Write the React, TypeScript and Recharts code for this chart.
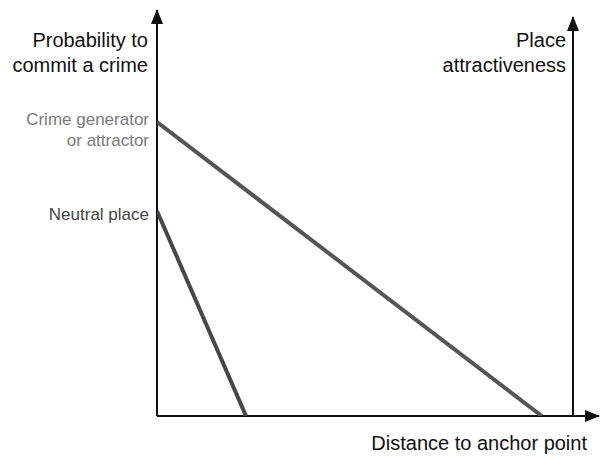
import React from "react";
import { LineChart, Line, XAxis, YAxis, ReferenceLine } from "recharts";

// Series: probability to commit a crime vs distance to anchor point
const generatorDistance = [0, 92.5];
const generatorProb = [73.5, 0];
const neutralDistance = [0, 21.4];
const neutralProb = [51.25, 0];

// Y tick labels (one per series start)
const yTickValues = [generatorProb[0], neutralProb[0]];
const yTickLabels = [["Crime generator", "or attractor"], ["Neutral place"]];
const yTickColors = ["#7a7a7a", "#444444"];

// Axis titles
const leftTitle = ["Probability to", "commit a crime"];
const rightTitle = ["Place", "attractiveness"];
const bottomTitle = "Distance to anchor point";

// Axis extents (data units)
const xMax = 100;
const yMax = 100;
const leftAxisTop = 101.5;
const rightAxisTop = 99.75;
const bottomAxisEnd = 106.25;

const generatorData = generatorDistance.map((d, i) => ({ x: d, y: generatorProb[i] }));
const neutralData = neutralDistance.map((d, i) => ({ x: d, y: neutralProb[i] }));

const FONT = '"Liberation Sans", Arial, Helvetica, sans-serif';

const ArrowLine = (p: any) => (
  <line
    x1={p.x1}
    y1={p.y1}
    x2={p.x2}
    y2={p.y2}
    stroke="#111"
    strokeWidth={2}
    markerEnd="url(#arrowHead)"
  />
);

const YTick = (props: any) => {
  const { x, y, payload } = props;
  const idx = yTickValues.indexOf(payload.value);
  if (idx < 0) return null;
  const lines = yTickLabels[idx];
  const first = lines.length > 1 ? 3 : 9;
  return (
    <text
      x={x}
      y={y + first}
      textAnchor="end"
      fill={yTickColors[idx]}
      fontSize={17}
      fontFamily={FONT}
    >
      {lines.map((l, i) => (
        <tspan key={i} x={x} dy={i === 0 ? 0 : 21}>
          {l}
        </tspan>
      ))}
    </text>
  );
};

const multiTitle = (lines: string[], dx: number, dy: number) => (props: any) => {
  const vb = props.viewBox || {};
  return (
    <text
      x={vb.x + dx}
      y={vb.y + dy}
      textAnchor="end"
      fill="#111"
      fontSize={20}
      fontFamily={FONT}
    >
      {lines.map((l, i) => (
        <tspan key={i} x={vb.x + dx} dy={i === 0 ? 0 : 24.5}>
          {l}
        </tspan>
      ))}
    </text>
  );
};

const bottomLabel = (props: any) => {
  const vb = props.viewBox || {};
  return (
    <text
      x={vb.x + vb.width - 12}
      y={vb.y + 34}
      textAnchor="end"
      fill="#111"
      fontSize={20}
      fontFamily={FONT}
    >
      {bottomTitle}
    </text>
  );
};

export default function App() {
  return (
    <div style={{ position: "absolute", left: 0, top: 0, width: 600, height: 456, background: "#fff" }}>
      <svg width={0} height={0} style={{ position: "absolute" }}>
        <defs>
          <marker
            id="arrowHead"
            viewBox="0 0 15 12"
            markerWidth={15}
            markerHeight={12}
            refX={14}
            refY={6}
            orient="auto"
            markerUnits="userSpaceOnUse"
          >
            <path d="M0,0 L15,6 L0,12 z" fill="#111" />
          </marker>
        </defs>
      </svg>
      <LineChart
        width={600}
        height={456}
        margin={{ top: 16, right: 27, bottom: 40, left: 0 }}
      >
        <XAxis type="number" dataKey="x" domain={[0, xMax]} allowDataOverflow hide />
        <YAxis
          type="number"
          dataKey="y"
          domain={[0, yMax]}
          allowDataOverflow
          width={157}
          axisLine={false}
          tickLine={false}
          ticks={yTickValues}
          interval={0}
          tick={<YTick />}
        />
        <ReferenceLine
          segment={[{ x: 0, y: 0 }, { x: 0, y: leftAxisTop }]}
          ifOverflow="visible"
          shape={ArrowLine}
          label={{ content: multiTitle(leftTitle, -9, 37) }}
        />
        <ReferenceLine
          segment={[{ x: xMax, y: 0 }, { x: xMax, y: rightAxisTop }]}
          ifOverflow="visible"
          shape={ArrowLine}
          label={{ content: multiTitle(rightTitle, -7, 30) }}
        />
        <ReferenceLine
          segment={[{ x: 0, y: 0 }, { x: bottomAxisEnd, y: 0 }]}
          ifOverflow="visible"
          shape={ArrowLine}
          label={{ content: bottomLabel }}
        />
        <Line
          data={generatorData}
          dataKey="y"
          type="linear"
          stroke="#555555"
          strokeWidth={4}
          dot={false}
          isAnimationActive={false}
        />
        <Line
          data={neutralData}
          dataKey="y"
          type="linear"
          stroke="#474747"
          strokeWidth={4}
          dot={false}
          isAnimationActive={false}
        />
      </LineChart>
    </div>
  );
}
